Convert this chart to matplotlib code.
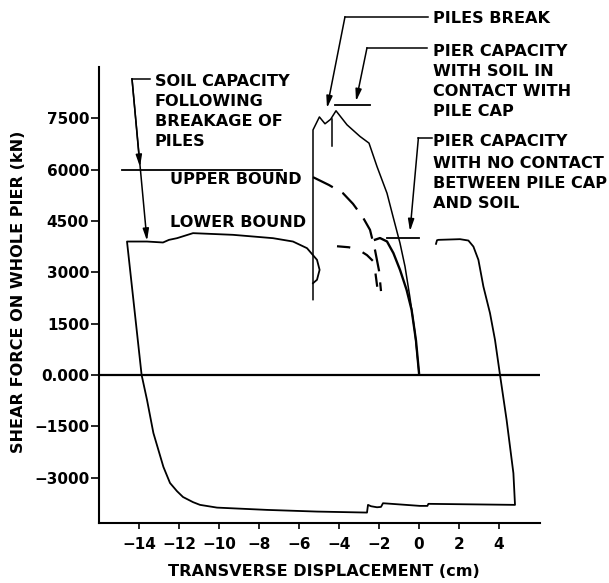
import matplotlib
matplotlib.use("Agg")
import matplotlib.pyplot as plt

# ---------------- data ----------------
x_ticks = [-14, -12, -10, -8, -6, -4, -2, 0, 2, 4]
y_ticks = [-3000, -1500, 0, 1500, 3000, 4500, 6000, 7500]
y_tick_labels = ["\u22123000", "\u22121500", "0.000", "1500", "3000", "4500", "6000", "7500"]

# pier capacity with soil in contact with pile cap (vertical rise, pile break zigzag, descending branch)
soil_contact_x = [-5.3, -5.3, -4.98, -4.7, -4.42, -4.15, -3.6, -2.95, -2.5, -2.1, -1.6, -1.3, -0.95, -0.7, -0.45, -0.2, 0.0]
soil_contact_y = [2200, 7160, 7540, 7340, 7470, 7720, 7310, 6970, 6775, 6090, 5310, 4630, 3850, 3170, 2250, 1220, 60]

# spur below zigzag
spur_x = [-4.35, -4.35]
spur_y = [7480, 6680]

# pier capacity with no contact between pile cap and soil
no_contact_x = [-2.2, -1.95, -1.6, -1.28, -0.95, -0.62, -0.37, -0.15, 0.0]
no_contact_y = [3950, 4000, 3900, 3560, 3070, 2485, 1900, 1000, 60]

# soil capacity after breakage of piles: hysteresis loop
loop_x = [-5.3, -5.1, -4.97, -5.1, -5.6, -6.3, -7.3, -9.3, -11.3, -12.1, -12.5, -12.8, -13.6, -14.6,
          -13.87, -13.6, -13.28, -12.78, -12.45, -12.1, -11.8, -11.3, -10.95, -10.1, -7.6, -5.1, -2.6,
          -2.55, -2.4, -2.1, -1.9, -1.8, 0.05, 0.42, 0.47, 4.8,
          4.72, 4.38, 4.05, 3.8, 3.55, 3.22, 2.97, 2.72, 2.47, 2.05, 0.97, 0.9, 0.85]
loop_y = [2680, 2780, 3070, 3363, 3704, 3898, 3996, 4094, 4143, 3996, 3947, 3870, 3898, 3898,
          0, -730, -1700, -2690, -3160, -3400, -3570, -3720, -3800, -3880, -3947, -3996, -4025,
          -3800, -3840, -3870, -3860, -3752, -3830, -3830, -3770, -3800,
          -2875, -1316, 0, 1023, 1804, 2582, 3363, 3751, 3927, 3967, 3947, 3935, 3830]

# dashed bounds
upper_dash_x = [-5.3, -4.5, -3.8, -3.3, -2.8, -2.45, -2.2, -2.0, -1.9]
upper_dash_y = [5780, 5550, 5310, 5000, 4600, 4240, 3650, 3050, 2450]
lower_dash_x = [-4.1, -3.5, -3.0, -2.6, -2.25, -2.15, -2.05]
lower_dash_y = [3760, 3730, 3650, 3500, 3300, 2850, 2400]

# reference levels
upper_bound_x = [-14.87, -6.87]
upper_bound_y = [6000, 6000]
cap_soil_x = [-4.2, -2.45]
cap_soil_y = [7900, 7900]
cap_nosoil_x = [-1.6, 0.0]
cap_nosoil_y = [4000, 4000]

# ---------------- figure ----------------
FONT = dict(family="DejaVu Sans", weight="bold", fontsize=11.6)
TICKFONT = dict(family="DejaVu Sans", weight="bold", fontsize=11)

fig = plt.figure(figsize=(6.09, 5.83), dpi=100)
ax = fig.add_axes([99/609, 1-523/583, (540-99)/609, (523-67)/583])
ax.set_xlim(-16, 6.05)
ax.set_ylim(-4330, 9000)

lw = 1.3
k = "black"
ax.axhline(0, color=k, lw=1.6)
ax.plot(soil_contact_x, soil_contact_y, color=k, lw=1.1)
ax.plot(spur_x, spur_y, color=k, lw=1.1)
ax.plot(no_contact_x, no_contact_y, color=k, lw=1.7)
ax.plot(loop_x, loop_y, color=k, lw=lw)
ax.plot(upper_dash_x, upper_dash_y, color=k, lw=1.6, dashes=(10, 5))
ax.plot(lower_dash_x, lower_dash_y, color=k, lw=1.6, dashes=(6, 6))
ax.plot(upper_bound_x, upper_bound_y, color=k, lw=lw)
ax.plot(cap_soil_x, cap_soil_y, color=k, lw=lw)
ax.plot(cap_nosoil_x, cap_nosoil_y, color=k, lw=lw)

for s in ["top", "right"]:
    ax.spines[s].set_visible(False)
for s in ["left", "bottom"]:
    ax.spines[s].set_linewidth(1.5)

ax.set_xticks(x_ticks)
ax.set_xticklabels([("\u2212" + str(-v)) if v < 0 else str(v) for v in x_ticks], **TICKFONT)
ax.set_yticks(y_ticks)
ax.set_yticklabels(y_tick_labels, **TICKFONT)
ax.tick_params(axis="y", direction="out", length=6, width=1.2, pad=1)
ax.tick_params(axis="x", direction="out", length=4, width=1.2, pad=6)

# axis labels
fig.text(19/609, 1-292/583, "SHEAR FORCE ON WHOLE PIER (kN)", rotation=90,
         ha="center", va="center", **FONT)
fig.text(324/609, 1-571/583, "TRANSVERSE DISPLACEMENT (cm)", ha="center", va="center", **FONT)

# bound labels
ax.text(-9.15, 5700, "UPPER BOUND", ha="center", va="center", **FONT)
ax.text(-9.07, 4440, "LOWER BOUND", ha="center", va="center", **FONT)

def lines(x, ys, texts):
    for y, t in zip(ys, texts):
        ax.text(x, y, t, ha="left", va="center", clip_on=False, **FONT)

lines(-13.2, [8576, 7991, 7407, 6822], ["SOIL CAPACITY", "FOLLOWING", "BREAKAGE OF", "PILES"])
lines(0.7, [10430], ["PILES BREAK"])
lines(0.7, [9453, 8860, 8275, 7690], ["PIER CAPACITY", "WITH SOIL IN", "CONTACT WITH", "PILE CAP"])
lines(0.7, [6822, 6190, 5605, 5020], ["PIER CAPACITY", "WITH NO CONTACT", "BETWEEN PILE CAP", "AND SOIL"])

arrow = dict(arrowstyle="-|>,head_length=0.7,head_width=0.18", color=k, lw=1.1,
             shrinkA=0, shrinkB=0)

def leader(x_text, x_corner, y_corner, tips):
    ax.plot([x_text, x_corner], [y_corner, y_corner], color=k, lw=1.1, clip_on=False)
    for tx, ty in tips:
        ax.annotate("", xy=(tx, ty), xytext=(x_corner, y_corner), arrowprops=arrow,
                    annotation_clip=False)

leader(-13.45, -14.35, 8655, [(-13.95, 6080), (-13.6, 3920)])
leader(0.47, -3.7, 10468, [(-4.6, 7800)])
leader(0.38, -2.6, 9561, [(-3.15, 8000)])
leader(0.63, -0.03, 6930, [(-0.45, 4200)])

fig.savefig("out.png", dpi=100)
